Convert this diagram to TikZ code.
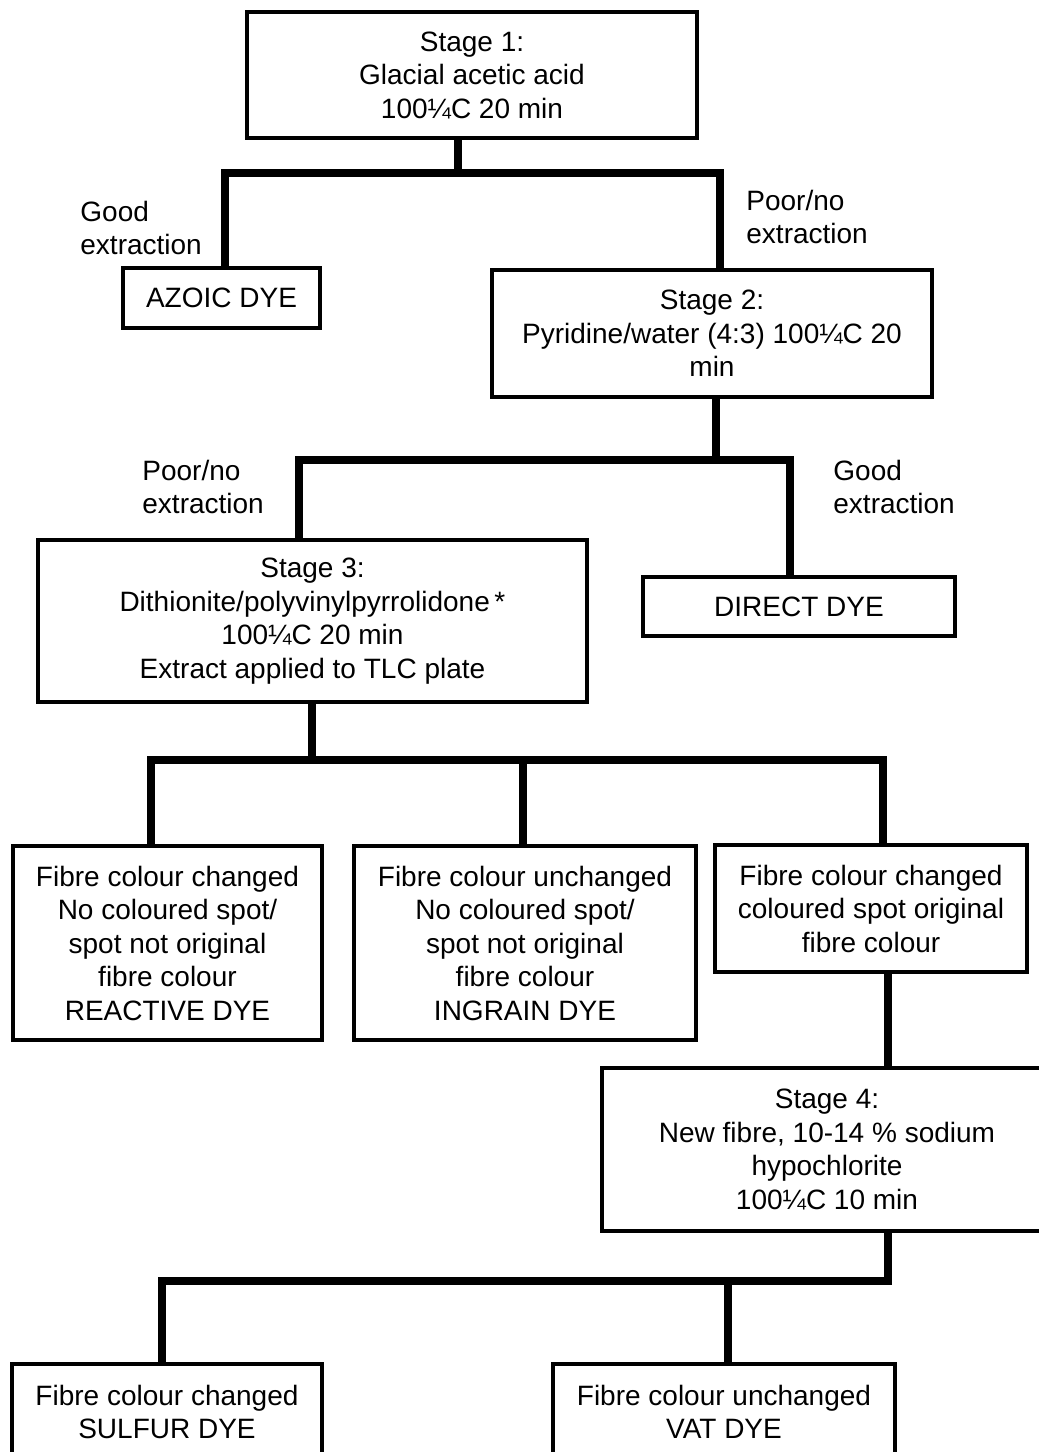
\documentclass[tikz,border=0pt]{standalone}
\usepackage{fontspec}
\setmainfont{Liberation Sans}
\begin{document}
\begin{tikzpicture}[x=0.5pt,y=-0.5pt,
  box/.style={draw, line width=2pt, rectangle, inner sep=0pt, align=center, font=\fontsize{14}{16.75}\selectfont},
  lbl/.style={inner sep=0pt, align=left, anchor=west, font=\fontsize{14}{16.75}\selectfont},
  conn/.style={line width=4.2pt, line join=miter}]
\useasboundingbox (0,0) rectangle (1039,1452);
% boxes
\node[box, minimum width=225pt, minimum height=63pt] (s1) at (472,75) {Stage 1:\\Glacial acetic acid\\100¼C 20 min};
\node[box, minimum width=98.5pt, minimum height=30pt] (azo) at (221.5,298) {AZOIC DYE};
\node[box, minimum width=220pt, minimum height=63.5pt] (s2) at (712,333.5) {Stage 2:\\Pyridine/water (4:3) 100¼C 20\\min};
\node[box, minimum width=274.5pt, minimum height=81pt] (s3) at (312.5,621) {Stage 3:\\Dithionite/polyvinylpyrrolidone\,*\\100¼C 20 min\\Extract applied to TLC plate};
\node[box, minimum width=156pt, minimum height=29.5pt] (dir) at (799,606.5) {DIRECT DYE};
\node[box, minimum width=154.5pt, minimum height=97pt] (ba) at (167.5,943) {Fibre colour changed\\No coloured spot/\\spot not original\\fibre colour\\REACTIVE DYE};
\node[box, minimum width=171pt, minimum height=97pt] (bb) at (525,943) {Fibre colour unchanged\\No coloured spot/\\spot not original\\fibre colour\\INGRAIN DYE};
\node[box, minimum width=156pt, minimum height=63.5pt] (bc) at (871,908.5) {Fibre colour changed\\coloured spot original\\fibre colour};
\node[box, minimum width=225pt, minimum height=81.5pt] (s4) at (827,1149.5) {Stage 4:\\New fibre, 10-14 \% sodium\\hypochlorite\\100¼C 10 min};
\node[box, minimum width=155pt, minimum height=48pt] (sul) at (167,1412) {Fibre colour changed\\SULFUR DYE};
\node[box, minimum width=171pt, minimum height=48pt] (vat) at (724,1412) {Fibre colour unchanged\\VAT DYE};
% labels
\node[lbl] (l1) at (80,228) {Good\\extraction};
\node[lbl] (l2) at (746,217) {Poor/no\\extraction};
\node[lbl] (l3) at (142,487) {Poor/no\\extraction};
\node[lbl] (l4) at (833,487) {Good\\extraction};
% junctions
\coordinate (f1) at (458,173); \coordinate (f1l) at (225,173); \coordinate (f1r) at (720,173);
\coordinate (f2) at (716,460); \coordinate (f2l) at (299,460); \coordinate (f2r) at (790,460);
\coordinate (f3) at (312,760); \coordinate (f3l) at (151,760); \coordinate (f3m) at (523,760); \coordinate (f3r) at (883,760);
\coordinate (f5) at (888,1281); \coordinate (f5l) at (162,1281); \coordinate (f5m) at (728,1281);
% connectors
\draw[conn] (s1.south -| f1) -- (f1);
\draw[conn] (azo.north -| f1l) -- (f1l) -- (f1r) -- (s2.north -| f1r);
\draw[conn] (s2.south -| f2) -- (f2);
\draw[conn] (s3.north -| f2l) -- (f2l) -- (f2r) -- (dir.north -| f2r);
\draw[conn] (s3.south -| f3) -- (f3);
\draw[conn] (ba.north -| f3l) -- (f3l) -- (f3r) -- (bc.north -| f3r);
\draw[conn] (f3m) -- (bb.north -| f3m);
\draw[conn] (bc.south -| f5) -- (s4.north -| f5);
\draw[conn] (s4.south -| f5) -- (f5) -- (f5l) -- (sul.north -| f5l);
\draw[conn] (f5m) -- (vat.north -| f5m);
\end{tikzpicture}
\end{document}
